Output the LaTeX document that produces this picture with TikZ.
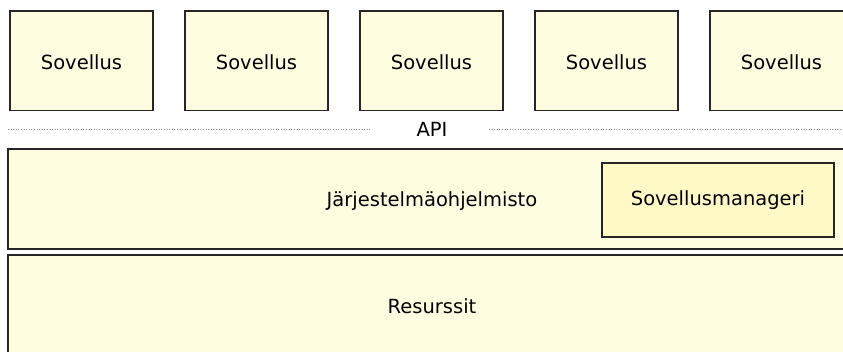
\documentclass[tikz,border=0pt]{standalone}
\usepackage{fontspec}
\setmainfont{DejaVu Sans}
\begin{document}
\begin{tikzpicture}[x=1pt,y=-1pt,
  txt/.style={font=\fontsize{19.5}{24}\selectfont},
  box/.style={draw=black!85,line width=1.2pt,fill=cream,inner sep=0pt,txt,text depth=0pt},
  appbox/.style={box,minimum width=143pt,minimum height=99.5pt,text height=16.6pt},
  layer/.style={box,minimum width=848pt,minimum height=100pt,text height=15.4pt},
  mgr/.style={box,fill=mgryellow,minimum width=232pt,minimum height=74pt,text height=11.4pt},
  apiline/.style={draw=black!45,line width=0.6pt,dotted}]
\definecolor{cream}{HTML}{FFFDE0}
\definecolor{mgryellow}{HTML}{FFF9C6}
\clip (0,0) rectangle (843,352);
\fill[white] (0,0) rectangle (843,352);
\node[appbox] (s1) at (81.5,60.75) {Sovellus};
\node[appbox] (s2) at (256.5,60.75) {Sovellus};
\node[appbox] (s3) at (431.5,60.75) {Sovellus};
\node[appbox] (s4) at (606.5,60.75) {Sovellus};
\node[appbox] (s5) at (781.5,60.75) {Sovellus};
\node[txt,anchor=base,inner sep=0pt] (api) at (432,136.7) {API};
\coordinate (l0) at (8,129.5);
\coordinate (l1) at (372,129.5);
\coordinate (r0) at (489,129.5);
\coordinate (r1) at (843,129.5);
\draw[apiline] (l0) -- (l1);
\draw[apiline] (r0) -- (r1);
\node[layer] (sys) at (432,199) {Järjestelmäohjelmisto};
\node[mgr] (mgr) at (718,200) {Sovellusmanageri};
\node[layer,minimum height=110pt] (res) at (432,310) {};
\node[txt,anchor=base,inner sep=0pt] (restext) at (432,313.3) {Resurssit};
\end{tikzpicture}
\end{document}
